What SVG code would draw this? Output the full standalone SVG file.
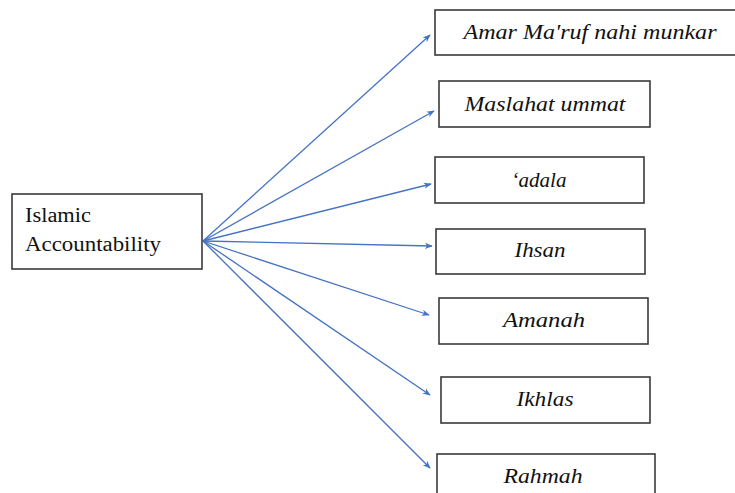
<svg xmlns="http://www.w3.org/2000/svg" width="735" height="493" viewBox="0 0 735 493">
<defs>
<style>
.box{fill:#fff;stroke:#3a3a3a;stroke-width:1.6}
.lbl{font-style:italic;font-size:21px;fill:#111;text-anchor:middle}
.src{font-size:20px;fill:#111}
.con{stroke:#4472C4;stroke-width:1.3;fill:none;marker-end:url(#ah)}
</style>
<marker id="ah" viewBox="0 0 10 10" refX="9" refY="5" markerWidth="8" markerHeight="8" markerUnits="userSpaceOnUse" orient="auto">
<path d="M0,1 L10,5 L0,9 L3,5 Z" fill="#4472C4"/>
</marker>
</defs>
<rect width="735" height="493" fill="#fff"/>
<g id="connectors">
<line class="con" x1="203" y1="241" x2="430" y2="35"/>
<line class="con" x1="203" y1="241" x2="434" y2="111"/>
<line class="con" x1="203" y1="241" x2="431" y2="184"/>
<line class="con" x1="203" y1="241" x2="432" y2="246"/>
<line class="con" x1="203" y1="241" x2="429" y2="315"/>
<line class="con" x1="203" y1="241" x2="430" y2="395"/>
<line class="con" x1="203" y1="241" x2="430" y2="468"/>
</g>
<g font-family="Liberation Serif, Tinos, Times New Roman, serif">
<g id="n-source">
<rect class="box" x="12" y="194" width="190" height="75"/>
<text class="src" x="25" y="222" textLength="66" lengthAdjust="spacingAndGlyphs">Islamic</text>
<text class="src" x="25" y="251" textLength="136" lengthAdjust="spacingAndGlyphs">Accountability</text>
</g>
<g id="n-amar">
<rect class="box" x="435" y="10" width="310" height="45"/>
<text class="lbl" x="590" y="39" textLength="253" lengthAdjust="spacingAndGlyphs">Amar Ma'ruf nahi munkar</text>
</g>
<g id="n-maslahat">
<rect class="box" x="439" y="81" width="211" height="46"/>
<text class="lbl" x="545" y="111" textLength="161" lengthAdjust="spacingAndGlyphs">Maslahat ummat</text>
</g>
<g id="n-adala">
<rect class="box" x="435" y="157" width="209" height="46"/>
<text class="lbl" x="539" y="187" textLength="55" lengthAdjust="spacingAndGlyphs">‘adala</text>
</g>
<g id="n-ihsan">
<rect class="box" x="436" y="229" width="209" height="45"/>
<text class="lbl" x="540" y="257" textLength="51" lengthAdjust="spacingAndGlyphs">Ihsan</text>
</g>
<g id="n-amanah">
<rect class="box" x="439" y="298" width="209" height="46"/>
<text class="lbl" x="544" y="327" textLength="82" lengthAdjust="spacingAndGlyphs">Amanah</text>
</g>
<g id="n-ikhlas">
<rect class="box" x="441" y="377" width="209" height="46"/>
<text class="lbl" x="545" y="406" textLength="57" lengthAdjust="spacingAndGlyphs">Ikhlas</text>
</g>
<g id="n-rahmah">
<rect class="box" x="437" y="454" width="218" height="46"/>
<text class="lbl" x="543" y="483" textLength="79" lengthAdjust="spacingAndGlyphs">Rahmah</text>
</g>
</g>
</svg>
